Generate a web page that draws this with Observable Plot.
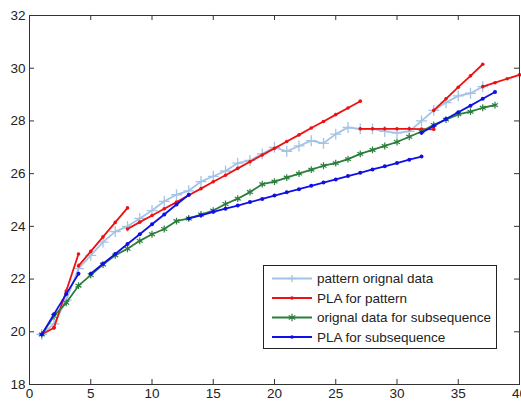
<!DOCTYPE html>
<html><head><meta charset="utf-8">
<script src="https://cdn.jsdelivr.net/npm/d3@7"></script>
<script src="https://cdn.jsdelivr.net/npm/@observablehq/plot@0.6"></script>
<style>body{margin:0;background:#fff}</style>
</head><body><div id="chart"></div>
<script>
// ---- data ----
const xTicks = [0, 5, 10, 15, 20, 25, 30, 35, 40];
const yTicks = [18, 20, 22, 24, 26, 28, 30, 32];

const patternX = [1,2,3,4,5,6,7,8,9,10,11,12,13,14,15,16,17,18,19,20,21,22,23,24,25,26,27,28,29,30,31,32,33,34,35,36,37];
const patternY = [19.9,20.3,21.2,22.4,22.9,23.4,23.8,24.0,24.3,24.6,24.95,25.2,25.35,25.7,25.9,26.1,26.4,26.5,26.75,27.0,26.85,27.05,27.25,27.15,27.5,27.75,27.7,27.7,27.6,27.55,27.6,28.0,28.4,28.7,28.95,29.05,29.3];

const subX = [1,2,3,4,5,6,7,8,9,10,11,12,13,14,15,16,17,18,19,20,21,22,23,24,25,26,27,28,29,30,31,32,33,34,35,36,37,38];
const subY = [19.9,20.6,21.1,21.75,22.15,22.55,22.9,23.15,23.45,23.7,23.9,24.2,24.3,24.45,24.6,24.85,25.05,25.3,25.6,25.7,25.85,26.0,26.15,26.3,26.4,26.55,26.75,26.9,27.05,27.2,27.4,27.6,27.85,28.05,28.25,28.35,28.5,28.6];

// PLA for pattern (segments)
const redSeg = ["A","A","B","B","B","C","C","C","C","C",
  "D","D","D","D","D","D","D","D","D","D","D","D","D","D","D","D","D","D","D","D",
  "E","E","E","E","E","E","E","F","F","F","F","F","G","G","G","G"];
const redX = [1,2, 2,3,4, 4,5,6,7,8,
  8,9,10,11,12,13,14,15,16,17,18,19,20,21,22,23,24,25,26,27,
  27,28,29,30,31,32,33, 33,34,35,36,37, 37,38,39,40];
const redY = [19.9,20.15, 20.15,21.55,22.95, 22.5,23.05,23.6,24.15,24.7,
  23.9,24.16,24.41,24.67,24.92,25.18,25.43,25.69,25.94,26.2,26.45,26.71,26.96,27.22,27.47,27.73,27.98,28.24,28.49,28.75,
  27.7,27.7,27.7,27.7,27.7,27.69,27.68, 28.4,28.84,29.28,29.71,30.15, 29.3,29.45,29.6,29.75];

// PLA for subsequence (segments)
const blueSeg = ["A","A","A","A","B","B","B","B","B","B","B","B","B",
  "C","C","C","C","C","C","C","C","C","C","C","C","C","C","C","C","C","C","C","C",
  "D","D","D","D","D","D","D"];
const blueX = [1,2,3,4, 5,6,7,8,9,10,11,12,13,
  13,14,15,16,17,18,19,20,21,22,23,24,25,26,27,28,29,30,31,32,
  32,33,34,35,36,37,38];
const blueY = [19.9,20.67,21.43,22.2, 22.2,22.58,22.95,23.33,23.7,24.08,24.45,24.83,25.2,
  24.3,24.42,24.55,24.67,24.79,24.92,25.04,25.17,25.29,25.41,25.54,25.66,25.78,25.91,26.03,26.16,26.28,26.4,26.53,26.65,
  27.55,27.81,28.07,28.33,28.58,28.84,29.1];

const seriesNames = ["pattern orignal data", "PLA for pattern", "orignal data for subsequence", "PLA for subsequence"];
const seriesColors = ["#a3c4e6", "#ee1111", "#2a7d3a", "#1010e6"];

// ---- build tables ----
const pattern = patternX.map((x, i) => ({x, y: patternY[i]}));
const sub = subX.map((x, i) => ({x, y: subY[i]}));
const red = redX.map((x, i) => ({x, y: redY[i], s: redSeg[i]}));
const blue = blueX.map((x, i) => ({x, y: blueY[i], s: blueSeg[i]}));

const W = 521, H = 405, mL = 29, mR = 2, mT = 15, mB = 21;
const pw = W - mL - mR, ph = H - mT - mB;
const axisColor = "#333";
const sw = 1.8;

const plot = Plot.plot({
  width: W, height: H,
  marginLeft: mL, marginRight: mR, marginTop: mT, marginBottom: mB,
  x: {domain: [0, 40]},
  y: {domain: [18, 32]},
  style: {fontFamily: "'Liberation Sans', Arial, sans-serif", fontSize: "13.5px", color: "#222", background: "#fff", overflow: "hidden"},
  marks: [
    Plot.line(pattern, {x: "x", y: "y", stroke: seriesColors[0], strokeWidth: sw}),
    Plot.dot(pattern, {x: "x", y: "y", symbol: "plus", r: 3.6, stroke: seriesColors[0], strokeWidth: 1.3}),
    Plot.line(red, {x: "x", y: "y", z: "s", stroke: seriesColors[1], strokeWidth: sw}),
    Plot.dot(red, {x: "x", y: "y", r: 1.8, fill: seriesColors[1], stroke: null}),
    Plot.line(sub, {x: "x", y: "y", stroke: seriesColors[2], strokeWidth: sw}),
    Plot.dot(sub, {x: "x", y: "y", symbol: "asterisk", r: 3.2, stroke: seriesColors[2], strokeWidth: 1.2}),
    Plot.line(blue, {x: "x", y: "y", z: "s", stroke: seriesColors[3], strokeWidth: sw}),
    Plot.dot(blue, {x: "x", y: "y", r: 2, fill: seriesColors[3], stroke: null}),
    Plot.frame({stroke: axisColor, strokeWidth: 1}),
    Plot.tickX(xTicks, {x: d => d, insetTop: ph - 5, stroke: axisColor}),
    Plot.tickX(xTicks, {x: d => d, insetBottom: ph - 5, stroke: axisColor}),
    Plot.tickY(yTicks, {y: d => d, insetRight: pw - 5, stroke: axisColor}),
    Plot.tickY(yTicks, {y: d => d, insetLeft: pw - 5, stroke: axisColor}),
    Plot.axisX({ticks: xTicks, tickSize: 0, tickPadding: 4, label: null, fontSize: 13.5}),
    Plot.axisY({ticks: yTicks, tickSize: 0, tickPadding: 4, label: null, fontSize: 13.5})
  ]
});

// ---- legend inside the plot (upper-left at 263,265) ----
const svg = d3.select(plot);
const lg = svg.append("g").attr("font-family", "'Liberation Sans', Arial, sans-serif").attr("font-size", 13.5).attr("text-anchor", "start");
lg.append("rect").attr("x", 263.5).attr("y", 265.5).attr("width", 233).attr("height", 83)
  .attr("fill", "#fff").attr("stroke", "#222").attr("stroke-width", 1);
const rowY = [278.5, 298, 317.5, 337];
seriesNames.forEach((name, i) => {
  const y = rowY[i];
  lg.append("line").attr("x1", 272).attr("x2", 312).attr("y1", y).attr("y2", y)
    .attr("stroke", seriesColors[i]).attr("stroke-width", sw);
  const mx = 292;
  if (i === 0) {
    lg.append("path").attr("d", `M${mx-3.5},${y}H${mx+3.5}M${mx},${y-3.5}V${y+3.5}`).attr("stroke", seriesColors[i]).attr("stroke-width", 1.3);
  } else if (i === 2) {
    lg.append("path").attr("d", d3.symbol(d3.symbolAsterisk, 40)()).attr("transform", `translate(${mx},${y})`).attr("stroke", seriesColors[i]).attr("stroke-width", 1.2).attr("fill", "none");
  } else {
    lg.append("circle").attr("cx", mx).attr("cy", y).attr("r", 1.8).attr("fill", seriesColors[i]);
  }
  lg.append("text").attr("x", 317).attr("y", y).attr("dy", "0.35em").attr("text-anchor", "start").attr("fill", "#222").text(name);
});

document.getElementById("chart").appendChild(plot);
</script>
</body></html>
